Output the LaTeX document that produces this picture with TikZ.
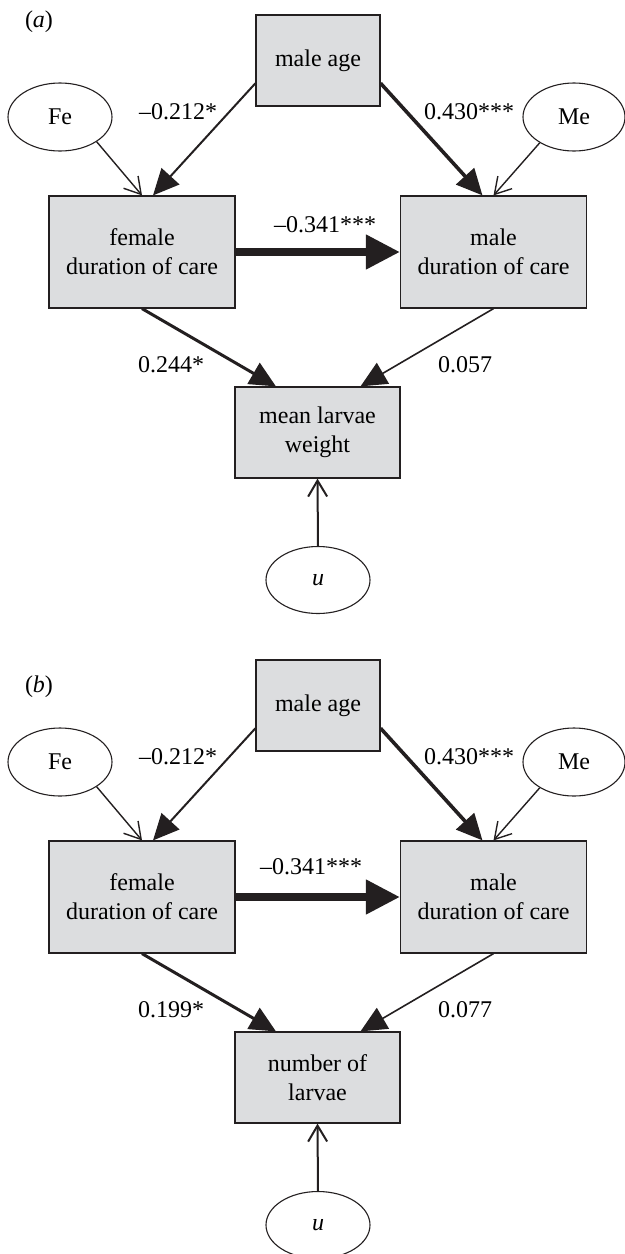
\documentclass[tikz,border=0pt]{standalone}
\usepackage{fontspec}
\setmainfont{Liberation Serif}
\usepackage{tikz}
\usetikzlibrary{shapes.geometric}
\usetikzlibrary{arrows.meta}

\definecolor{boxgray}{HTML}{DCDDDF}
\definecolor{ink}{HTML}{231F20}

\tikzset{
  box/.style={draw=ink, fill=boxgray, line width=.6pt, align=center, inner sep=0pt},
  agebox/.style={box, minimum width=62pt, minimum height=45.5pt},
  carebox/.style={box, minimum width=93pt, minimum height=56pt},
  outbox/.style={box, minimum width=82.5pt, minimum height=45.5pt},
  err/.style={draw=ink, ellipse, line width=.55pt, minimum width=52pt, minimum height=34pt, inner sep=0pt},
  coef/.style={anchor=base, inner sep=0pt},
  thinarrow/.style={draw=ink, line width=.7pt, -{Straight Barb[length=8pt,width=9.5pt]}},
  midarrow/.style={draw=ink, -{Triangle[length=13pt,width=12pt]}},
  bigarrow/.style={draw=ink, line width=3.8pt, -{Triangle[length=17pt,width=16.5pt]}}
}

\begin{document}
\begin{tikzpicture}[x=.5pt, y=-.5pt, font=\fontsize{12}{14.5}\selectfont]
    \useasboundingbox (0,0) rectangle (625,1254);

    \node [coef] (taga) at (39,27) {(\textit{a})};
    \node [coef] (tagb) at (39,692) {(\textit{b})};

    % panel a
    \node [agebox] (agea) at (318,60.5) {male age};
    \node [err] (fea) at (60,117) {Fe};
    \node [err, minimum width=51pt] (mea) at (574,117) {Me};
    \node [carebox] (fcarea) at (142,252) {female\\duration of care};
    \node [carebox] (mcarea) at (493.5,252) {male\\duration of care};
    \node [outbox] (outa) at (317.5,432.5) {mean larvae\\weight};
    \node [err, minimum height=33.5pt] (ua) at (318,580) {\textit{u}};

    \draw [thinarrow] (fea.326) -- (fcarea.north);
    \draw [thinarrow] (mea.217) -- (mcarea.north);
    \draw [midarrow, line width=1pt] (agea.200) -- (fcarea.79);
    \draw [midarrow, line width=1.8pt] (agea.340) -- (mcarea.101);
    \draw [bigarrow] (fcarea.east) -- (mcarea.west);
    \draw [midarrow, line width=1.5pt] (fcarea.south) -- (outa.132);
    \draw [midarrow, line width=.8pt] (mcarea.south) -- (outa.47);
    \draw [thinarrow, line width=1pt] (ua.north) -- (outa.south);

    \node [coef] (wfa) at (178,119) {–0.212*};
    \node [coef] (wma) at (469,119) {0.430***};
    \node [coef] (wfma) at (325,232) {–0.341***};
    \node [coef] (wofa) at (171,372) {0.244*};
    \node [coef] (woma) at (465,372) {0.057};

    % panel b, same layout lower down
    \begin{scope}[yshift=-322.5pt]
    \node [agebox] (ageb) at (318,60.5) {male age};
    \node [err] (feb) at (60,117) {Fe};
    \node [err, minimum width=51pt] (meb) at (574,117) {Me};
    \node [carebox] (fcareb) at (142,252) {female\\duration of care};
    \node [carebox] (mcareb) at (493.5,252) {male\\duration of care};
    \node [outbox] (outb) at (317.5,432.5) {number of\\larvae};
    \node [err, minimum height=33.5pt] (ub) at (318,580) {\textit{u}};

    \draw [thinarrow] (feb.326) -- (fcareb.north);
    \draw [thinarrow] (meb.217) -- (mcareb.north);
    \draw [midarrow, line width=1pt] (ageb.200) -- (fcareb.79);
    \draw [midarrow, line width=1.8pt] (ageb.340) -- (mcareb.101);
    \draw [bigarrow] (fcareb.east) -- (mcareb.west);
    \draw [midarrow, line width=1.5pt] (fcareb.south) -- (outb.132);
    \draw [midarrow, line width=.8pt] (mcareb.south) -- (outb.47);
    \draw [thinarrow, line width=1pt] (ub.north) -- (outb.south);

    \node [coef] (wfb) at (178,119) {–0.212*};
    \node [coef] (wmb) at (469,119) {0.430***};
    \node [coef] (wfmb) at (311,229) {–0.341***};
    \node [coef] (wofb) at (171,372) {0.199*};
    \node [coef] (womb) at (465,372) {0.077};
    \end{scope}
\end{tikzpicture}
\end{document}
